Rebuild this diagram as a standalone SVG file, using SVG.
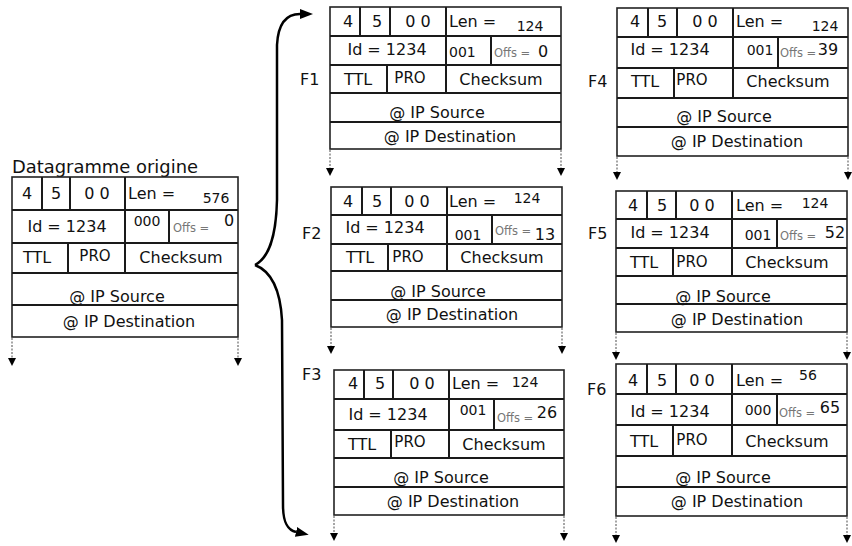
<svg xmlns="http://www.w3.org/2000/svg" width="852" height="546" viewBox="0 0 852 546">
<style>
.box{fill:#fff;stroke:#222;stroke-width:1.6}
.ln{stroke:#1a1a1a;stroke-width:2;fill:none}
.t{font-family:"DejaVu Sans",sans-serif;font-size:16px;fill:#111}
.m{text-anchor:middle}
.p{font-size:15px}
.n{font-size:14px}
.s{font-size:11.5px;fill:#777}
.lbl{font-size:16px}
.dot{stroke:#888;stroke-width:1.5;stroke-dasharray:2 1.5;fill:none}
.brace{stroke:#000;stroke-width:2.5;fill:none}
</style>
<defs>
<marker id="big" markerUnits="userSpaceOnUse" markerWidth="14" markerHeight="12" refX="0" refY="5" orient="auto"><path d="M0,0 L13,5 L0,10 z" fill="#000"/></marker>
<marker id="small" markerUnits="userSpaceOnUse" markerWidth="9" markerHeight="9" refX="0" refY="4" orient="auto"><path d="M0,0 L8,4 L0,8 z" fill="#000"/></marker>
</defs>
<rect width="852" height="546" fill="#fff"/>

<g id="orig">
<text class="t" x="12" y="173" textLength="186" lengthAdjust="spacingAndGlyphs" style="font-size:17px">Datagramme origine</text>
<rect class="box" x="12" y="177" width="226" height="160"/>
<path class="ln" d="M12 210H238M12 243H238M12 273H238M12 305H238M42 177V210M70 177V210M125 177V273M169 210V243M68 243V273"/>
<text class="t m" x="27" y="199">4</text><text class="t m" x="56" y="199">5</text><text class="t m" x="97" y="199">0 0</text>
<text class="t" x="128" y="199">Len =</text><text class="t n m" x="216" y="203">576</text>
<text class="t m" x="67" y="232">Id = 1234</text><text class="t n m" x="147" y="226">000</text>
<text class="t s" x="173" y="232">Offs =</text><text class="t m" x="229" y="226">0</text>
<text class="t m" x="37" y="263">TTL</text><text class="t p m" x="95" y="261">PRO</text><text class="t m" x="181" y="263">Checksum</text>
<text class="t m" x="117" y="302">@ IP Source</text><text class="t m" x="129" y="327">@ IP Destination</text>
</g>

<g id="f1">
<text class="t lbl" x="300" y="85">F1</text>
<rect class="box" x="330" y="7" width="231" height="142"/>
<path class="ln" d="M330 36H561M330 65H561M330 93H561M330 122H561M360 7V36M390 7V36M446 7V93M491 36V65M387 65V93"/>
<text class="t m" x="348" y="27">4</text><text class="t m" x="377" y="27">5</text><text class="t m" x="418" y="27">0 0</text>
<text class="t" x="449" y="27">Len =</text><text class="t n m" x="530" y="31">124</text>
<text class="t m" x="387" y="55">Id = 1234</text><text class="t n" x="449" y="57">001</text>
<text class="t s" x="494" y="57">Offs =</text><text class="t m" x="543" y="57">0</text>
<text class="t m" x="358" y="85">TTL</text><text class="t p m" x="410" y="83">PRO</text><text class="t m" x="501" y="85">Checksum</text>
<text class="t m" x="437" y="118">@ IP Source</text><text class="t m" x="450" y="142">@ IP Destination</text>
</g>

<g id="f2">
<text class="t lbl" x="302" y="239">F2</text>
<rect class="box" x="331" y="187" width="231" height="140"/>
<path class="ln" d="M331 215H562M331 244H562M331 271H562M331 300H562M362 187V215M391 187V215M447 187V271M492 215V244M388 244V271"/>
<text class="t m" x="348" y="207">4</text><text class="t m" x="377" y="207">5</text><text class="t m" x="417" y="207">0 0</text>
<text class="t" x="449" y="207">Len =</text><text class="t n m" x="527" y="203">124</text>
<text class="t m" x="385" y="233">Id = 1234</text><text class="t n m" x="468" y="240">001</text>
<text class="t s" x="495" y="235">Offs =</text><text class="t m" x="545" y="240">13</text>
<text class="t m" x="360" y="263">TTL</text><text class="t p m" x="408" y="262">PRO</text><text class="t m" x="502" y="263">Checksum</text>
<text class="t m" x="438" y="297">@ IP Source</text><text class="t m" x="452" y="320">@ IP Destination</text>
</g>

<g id="f3">
<text class="t lbl" x="302" y="380">F3</text>
<rect class="box" x="334" y="370" width="230" height="145"/>
<path class="ln" d="M334 399H564M334 430H564M334 458H564M334 487H564M364 370V399M393 370V399M449 370V458M494 399V430M391 430V458"/>
<text class="t m" x="353" y="389">4</text><text class="t m" x="380" y="389">5</text><text class="t m" x="422" y="389">0 0</text>
<text class="t" x="452" y="389">Len =</text><text class="t n m" x="525" y="387">124</text>
<text class="t m" x="388" y="420">Id = 1234</text><text class="t n m" x="473" y="415">001</text>
<text class="t s" x="497" y="422">Offs =</text><text class="t m" x="547" y="418">26</text>
<text class="t m" x="362" y="450">TTL</text><text class="t p m" x="410" y="447">PRO</text><text class="t m" x="504" y="450">Checksum</text>
<text class="t m" x="441" y="483">@ IP Source</text><text class="t m" x="453" y="507">@ IP Destination</text>
</g>

<g id="f4">
<text class="t lbl" x="588" y="87">F4</text>
<rect class="box" x="617" y="8" width="231" height="148"/>
<path class="ln" d="M617 37H848M617 68H848M617 98H848M617 127H848M648 8V37M677 8V37M733 8V98M778 37V68M674 68V98"/>
<text class="t m" x="635" y="27">4</text><text class="t m" x="662" y="27">5</text><text class="t m" x="705" y="27">0 0</text>
<text class="t" x="736" y="27">Len =</text><text class="t n m" x="825" y="31">124</text>
<text class="t m" x="670" y="55">Id = 1234</text><text class="t n m" x="760" y="55">001</text>
<text class="t s" x="780" y="57">Offs =</text><text class="t m" x="828" y="55">39</text>
<text class="t m" x="645" y="87">TTL</text><text class="t p m" x="692" y="85">PRO</text><text class="t m" x="788" y="87">Checksum</text>
<text class="t m" x="724" y="122">@ IP Source</text><text class="t m" x="737" y="147">@ IP Destination</text>
</g>

<g id="f5">
<text class="t lbl" x="588" y="239">F5</text>
<rect class="box" x="616" y="191" width="231" height="141"/>
<path class="ln" d="M616 219H847M616 248H847M616 276H847M616 304H847M647 191V219M676 191V219M732 191V276M777 219V248M673 248V276"/>
<text class="t m" x="633" y="211">4</text><text class="t m" x="662" y="211">5</text><text class="t m" x="702" y="211">0 0</text>
<text class="t" x="736" y="211">Len =</text><text class="t n m" x="815" y="208">124</text>
<text class="t m" x="670" y="238">Id = 1234</text><text class="t n m" x="758" y="240">001</text>
<text class="t s" x="780" y="240">Offs =</text><text class="t m" x="835" y="238">52</text>
<text class="t m" x="644" y="268">TTL</text><text class="t p m" x="692" y="267">PRO</text><text class="t m" x="787" y="268">Checksum</text>
<text class="t m" x="723" y="302">@ IP Source</text><text class="t m" x="737" y="325">@ IP Destination</text>
</g>

<g id="f6">
<text class="t lbl" x="587" y="395">F6</text>
<rect class="box" x="616" y="364" width="231" height="152"/>
<path class="ln" d="M616 394H847M616 425H847M616 456H847M616 487H847M647 364V394M676 364V394M732 364V456M777 394V425M673 425V456"/>
<text class="t m" x="633" y="386">4</text><text class="t m" x="662" y="386">5</text><text class="t m" x="702" y="386">0 0</text>
<text class="t" x="736" y="386">Len =</text><text class="t n m" x="808" y="380">56</text>
<text class="t m" x="670" y="417">Id = 1234</text><text class="t n m" x="758" y="415">000</text>
<text class="t s" x="779" y="417">Offs =</text><text class="t m" x="830" y="413">65</text>
<text class="t m" x="644" y="447">TTL</text><text class="t p m" x="692" y="445">PRO</text><text class="t m" x="787" y="447">Checksum</text>
<text class="t m" x="723" y="483">@ IP Source</text><text class="t m" x="737" y="507">@ IP Destination</text>
</g>

<g id="connectors">
<path class="brace" marker-end="url(#big)" d="M255 265C268 258 276 240 277 200L277 45C278 25 285 14 300 14"/>
<path class="brace" marker-end="url(#big)" d="M255 265C268 270 280 285 282 320L283 505C283 522 287 530 296 532"/>
<g marker-end="url(#small)">
<path class="dot" d="M12 338V358"/><path class="dot" d="M238 338V358"/>
<path class="dot" d="M330 150V168"/><path class="dot" d="M561 150V168"/>
<path class="dot" d="M617 157V172"/><path class="dot" d="M848 157V172"/>
<path class="dot" d="M331 328V346"/><path class="dot" d="M562 328V346"/>
<path class="dot" d="M616 333V352"/><path class="dot" d="M847 333V352"/>
<path class="dot" d="M334 516V533"/><path class="dot" d="M564 516V533"/>
<path class="dot" d="M616 517V535"/><path class="dot" d="M847 517V535"/>
</g>
</g>
</svg>
